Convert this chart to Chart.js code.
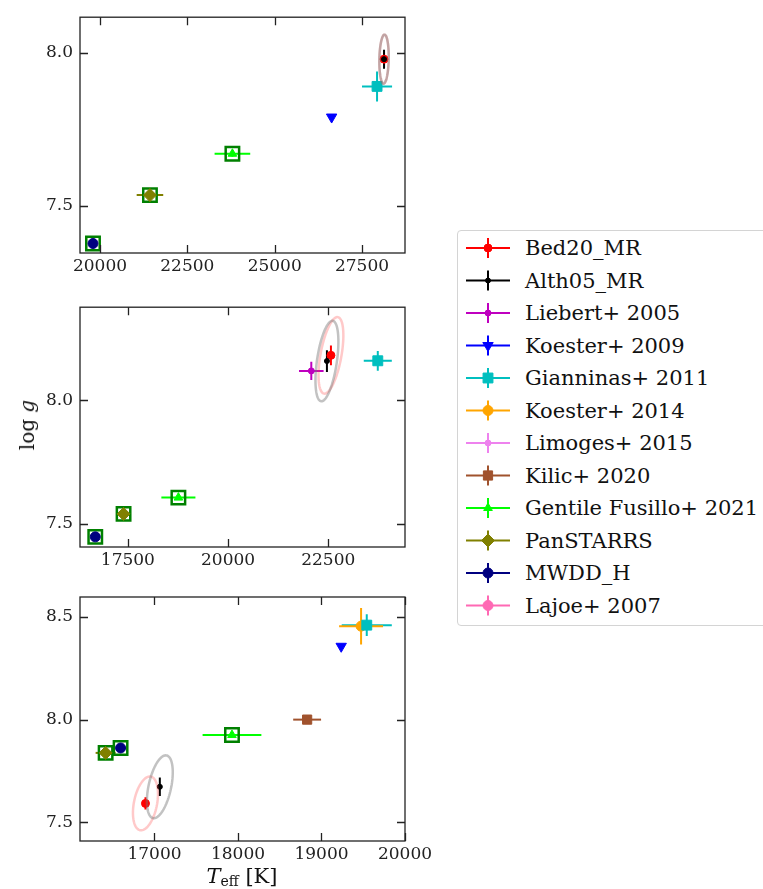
<!DOCTYPE html>
<html>
<head>
<meta charset="utf-8">
<script src="https://cdn.jsdelivr.net/npm/chart.js@4.4.0/dist/chart.umd.min.js"></script>
<style>
  body { margin: 0; background: #fff; }
  #page { position: relative; width: 763px; height: 889px; overflow: hidden; font-family: 'DejaVu Serif', serif; color: #222; }
  canvas.panel { position: absolute; left: 0; }
  #legend { position: absolute; left: 457px; top: 230px; width: 340px; height: 396px; border: 1px solid #d4d4d4; border-radius: 4px; box-sizing: border-box; }
  #legend canvas { position: absolute; left: 7px; top: 0; }
  #legend .txt { position: absolute; left: 67px; font-size: 21px; line-height: 24px; white-space: nowrap; color: #111; }
  #ylab { position: absolute; left: 27px; top: 425px; transform: translate(-50%, -50%) rotate(-90deg); font-size: 20px; white-space: nowrap; color: #111; }
  #xlab { position: absolute; left: 242px; top: 876px; transform: translate(-50%, -50%); font-size: 21px; white-space: nowrap; color: #111; }
  #xlab sub { font-size: 14px; vertical-align: -3px; }
</style>
</head>
<body>
<div id="page">
  <canvas id="panel1" class="panel" style="top:0px" width="450" height="290"></canvas>
  <canvas id="panel2" class="panel" style="top:290px" width="450" height="290"></canvas>
  <canvas id="panel3" class="panel" style="top:570px" width="450" height="319"></canvas>
  <div id="ylab">log <i>g</i></div>
  <div id="xlab"><i>T</i><sub>eff</sub> [K]</div>
  <div id="legend"></div>
</div>
<script>
// sources, in legend order
const seriesNames = ['Bed20_MR', 'Alth05_MR', 'Liebert+ 2005', 'Koester+ 2009', 'Gianninas+ 2011',
  'Koester+ 2014', 'Limoges+ 2015', 'Kilic+ 2020', 'Gentile Fusillo+ 2021', 'PanSTARRS', 'MWDD_H', 'Lajoe+ 2007'];
const seriesColors = ['#ff0000', '#000000', '#bf00bf', '#0000ff', '#00bfbf', '#ffa500',
  '#ee82ee', '#a0522d', '#00ff00', '#808000', '#000080', '#ff69b4'];
const seriesMarkers = ['circle', 'circle', 'circle', 'triangle', 'rect', 'circle',
  'circle', 'rect', 'triangle', 'rectRot', 'circle', 'circle'];
const seriesRotation = [0, 0, 0, 180, 0, 0, 0, 0, 0, 0, 0, 0];
const seriesRadius = [4, 2.5, 3, 6, 7, 5, 3, 6.5, 5, 6.5, 5, 5];

// sources that also have a photometric fit (outlined in green)
const photIdx = [8, 9, 10];

// top star
const teff1 = [28130, 28130, null, 26630, 27930, null, null, null, 23790, 21430, 19800, null];
const teffErr1 = [40, 0, null, 0, 430, null, null, null, 510, 380, 0, null];
const logg1 = [7.979, 7.979, null, 7.79, 7.89, null, null, null, 7.67, 7.535, 7.377, null];
const loggErr1 = [0.02, 0.031, null, 0, 0.049, null, null, null, 0.01, 0.01, 0, null];
const xTicks1 = [20000, 22500, 25000, 27500];
const yTicks1 = [7.5, 8.0];

// middle star
const teff2 = [22567, 22467, 22077, null, 23736, null, null, null, 18761, 17393, 16687, null];
const teffErr2 = [60, 0, 307, null, 350, null, null, null, 425, 0, 0, null];
const logg2 = [8.182, 8.159, 8.119, null, 8.16, null, null, null, 7.606, 7.54, 7.447, null];
const loggErr2 = [0.04, 0.044, 0.037, null, 0.04, null, null, null, 0, 0, 0, null];
const xTicks2 = [17500, 20000, 22500];
const yTicks2 = [7.5, 8.0];

// bottom star
const teff3 = [16892, 17064, null, 19236, 19542, 19474, null, 18828, 17928, 16415, 16594, null];
const teffErr3 = [20, 0, null, 0, 300, 263, null, 167, 352, 120, 0, null];
const logg3 = [7.592, 7.673, null, 8.357, 8.46, 8.455, null, 8.0, 7.925, 7.838, 7.862, null];
const loggErr3 = [0.03, 0.045, null, 0, 0.053, 0.089, null, 0, 0, 0, 0, null];
const xTicks3 = [17000, 18000, 19000, 20000];
const yTicks3 = [7.5, 8.0, 8.5];

// error ellipses [sigma Teff, sigma logg, correlation] for Bed20_MR and Alth05_MR
const ell1 = [[134, 0.08, 0.1], [134, 0.08, 0.1]];
const ell2 = [[310, 0.155, 0.52], [286, 0.163, 0.48]];
const ell3 = [[150, 0.131, 0.35], [155, 0.153, 0.46]];
const ellColors = ['rgba(255, 60, 60, 0.28)', 'rgba(120, 120, 120, 0.45)'];

function buildDatasets(teff, teffErr, logg, loggErr) {
  const sets = [];
  seriesNames.forEach((name, i) => {
    if (teff[i] == null) return;
    sets.push({
      label: name,
      data: [{ x: teff[i], y: logg[i], xe: teffErr[i], ye: loggErr[i] }],
      pointStyle: seriesMarkers[i],
      pointRadius: seriesRadius[i],
      pointRotation: seriesRotation[i],
      pointBackgroundColor: seriesColors[i],
      pointBorderColor: seriesColors[i],
      pointBorderWidth: 1,
      borderColor: seriesColors[i],
      errors: true,
      order: i === 1 ? -1 : i
    });
  });
  const phot = photIdx.filter(i => teff[i] != null).map(i => ({ x: teff[i], y: logg[i] }));
  sets.push({
    label: 'phot',
    data: phot,
    pointStyle: 'rect',
    pointRadius: 9.5,
    pointBackgroundColor: 'rgba(0,0,0,0)',
    pointBorderColor: '#008000',
    pointBorderWidth: 2.5,
    order: 50
  });
  return sets;
}

// error bars under the markers
const errorBars = {
  id: 'errorBars',
  beforeDatasetsDraw(chart) {
    const { ctx, chartArea: a, scales: { x, y } } = chart;
    ctx.save();
    ctx.beginPath();
    ctx.rect(a.left, a.top, a.right - a.left, a.bottom - a.top);
    ctx.clip();
    ctx.lineWidth = 2;
    chart.data.datasets.forEach(ds => {
      if (!ds.errors) return;
      ctx.strokeStyle = ds.borderColor;
      ds.data.forEach(p => {
        const px = x.getPixelForValue(p.x), py = y.getPixelForValue(p.y);
        ctx.beginPath();
        if (p.xe) {
          ctx.moveTo(x.getPixelForValue(p.x - p.xe), py);
          ctx.lineTo(x.getPixelForValue(p.x + p.xe), py);
        }
        if (p.ye) {
          ctx.moveTo(px, y.getPixelForValue(p.y - p.ye));
          ctx.lineTo(px, y.getPixelForValue(p.y + p.ye));
        }
        ctx.stroke();
      });
    });
    ctx.restore();
  }
};

// covariance ellipses around the two model fits
const ellipses = {
  id: 'ellipses',
  afterDatasetsDraw(chart, args, opts) {
    const { ctx, chartArea: a, scales: { x, y } } = chart;
    const centres = chart.data.datasets.slice(0, 2);
    ctx.save();
    ctx.beginPath();
    ctx.rect(a.left, a.top, a.right - a.left, a.bottom - a.top);
    ctx.clip();
    ctx.lineWidth = 2.5;
    opts.list.forEach((e, k) => {
      const c = centres[k].data[0];
      const [sx, sy, rho] = e;
      const q = Math.sqrt(1 - rho * rho);
      ctx.strokeStyle = ellColors[k];
      ctx.beginPath();
      for (let s = 0; s <= 90; s++) {
        const t = s / 90 * 2 * Math.PI;
        const px = x.getPixelForValue(c.x + sx * Math.cos(t));
        const py = y.getPixelForValue(c.y + sy * (rho * Math.cos(t) + q * Math.sin(t)));
        if (s === 0) ctx.moveTo(px, py); else ctx.lineTo(px, py);
      }
      ctx.closePath();
      ctx.stroke();
    });
    ctx.restore();
  }
};

// box and inward ticks on all four sides
const frameTicks = {
  id: 'frameTicks',
  afterDraw(chart) {
    const { ctx, chartArea: a, scales: { x, y } } = chart;
    ctx.save();
    ctx.strokeStyle = '#222';
    ctx.lineWidth = 1.3;
    ctx.strokeRect(a.left, a.top, a.right - a.left, a.bottom - a.top);
    ctx.beginPath();
    x.ticks.forEach(t => {
      const px = Math.round(x.getPixelForValue(t.value)) + 0.5;
      ctx.moveTo(px, a.bottom); ctx.lineTo(px, a.bottom - 8);
      ctx.moveTo(px, a.top); ctx.lineTo(px, a.top + 8);
    });
    y.ticks.forEach(t => {
      const py = Math.round(y.getPixelForValue(t.value)) + 0.5;
      ctx.moveTo(a.left, py); ctx.lineTo(a.left + 8, py);
      ctx.moveTo(a.right, py); ctx.lineTo(a.right - 8, py);
    });
    ctx.stroke();
    ctx.restore();
  }
};

const tickFont = { family: 'DejaVu Serif', size: 17 };

function makePanel(id, data, ell, xr, yr, xTicks, yTicks, top, xAxisH) {
  new Chart(document.getElementById(id), {
    type: 'scatter',
    data: { datasets: data },
    plugins: [errorBars, ellipses, frameTicks],
    options: {
      responsive: false,
      animation: false,
      devicePixelRatio: 1,
      layout: { padding: { left: 0, right: 45, top: top, bottom: 0 } },
      plugins: { legend: { display: false }, tooltip: { enabled: false }, ellipses: { list: ell } },
      scales: {
        x: {
          type: 'linear', min: xr[0], max: xr[1],
          grid: { display: false, drawTicks: false }, border: { display: false },
          afterBuildTicks: s => { s.ticks = xTicks.map(v => ({ value: v })); },
          afterFit: s => { s.height = xAxisH; },
          ticks: { autoSkip: false, maxRotation: 0, padding: 3,
            color: '#222', font: tickFont, callback: v => String(v) }
        },
        y: {
          type: 'linear', min: yr[0], max: yr[1],
          grid: { display: false, drawTicks: false }, border: { display: false },
          afterBuildTicks: s => { s.ticks = yTicks.map(v => ({ value: v })); },
          afterFit: s => { s.width = 80; },
          ticks: { autoSkip: false, padding: 7,
            color: '#222', font: tickFont, callback: v => v.toFixed(1) }
        }
      }
    }
  });
}

makePanel('panel1', buildDatasets(teff1, teffErr1, logg1, loggErr1), ell1, [19428, 28730], [7.346, 8.116], xTicks1, yTicks1, 8, 37);
makePanel('panel2', buildDatasets(teff2, teffErr2, logg2, loggErr2), ell2, [16306, 24415], [7.406, 8.377], xTicks2, yTicks2, 13, 33);
makePanel('panel3', buildDatasets(teff3, teffErr3, logg3, loggErr3), ell3, [16108, 20000], [7.409, 8.597], xTicks3, yTicks3, 27, 48);

// legend: error-bar handle plus label for every source
const legend = document.getElementById('legend');
const rowGap = 32.5, firstRow = 17;
const handles = document.createElement('canvas');
handles.width = 46;
handles.height = 394;
legend.appendChild(handles);
const hctx = handles.getContext('2d');
seriesNames.forEach((name, i) => {
  const cy = firstRow + i * rowGap;
  hctx.strokeStyle = seriesColors[i];
  hctx.fillStyle = seriesColors[i];
  hctx.lineWidth = 2;
  hctx.beginPath();
  hctx.moveTo(1, cy); hctx.lineTo(45, cy);
  hctx.moveTo(23, cy - 10); hctx.lineTo(23, cy + 10);
  hctx.stroke();
  hctx.lineWidth = 1;
  Chart.helpers.drawPoint(hctx, { pointStyle: seriesMarkers[i], radius: seriesRadius[i], rotation: seriesRotation[i], borderWidth: 1 }, 23, cy);
  const t = document.createElement('div');
  t.className = 'txt';
  t.style.top = (cy - 12) + 'px';
  t.textContent = name;
  legend.appendChild(t);
});
</script>
</body>
</html>
